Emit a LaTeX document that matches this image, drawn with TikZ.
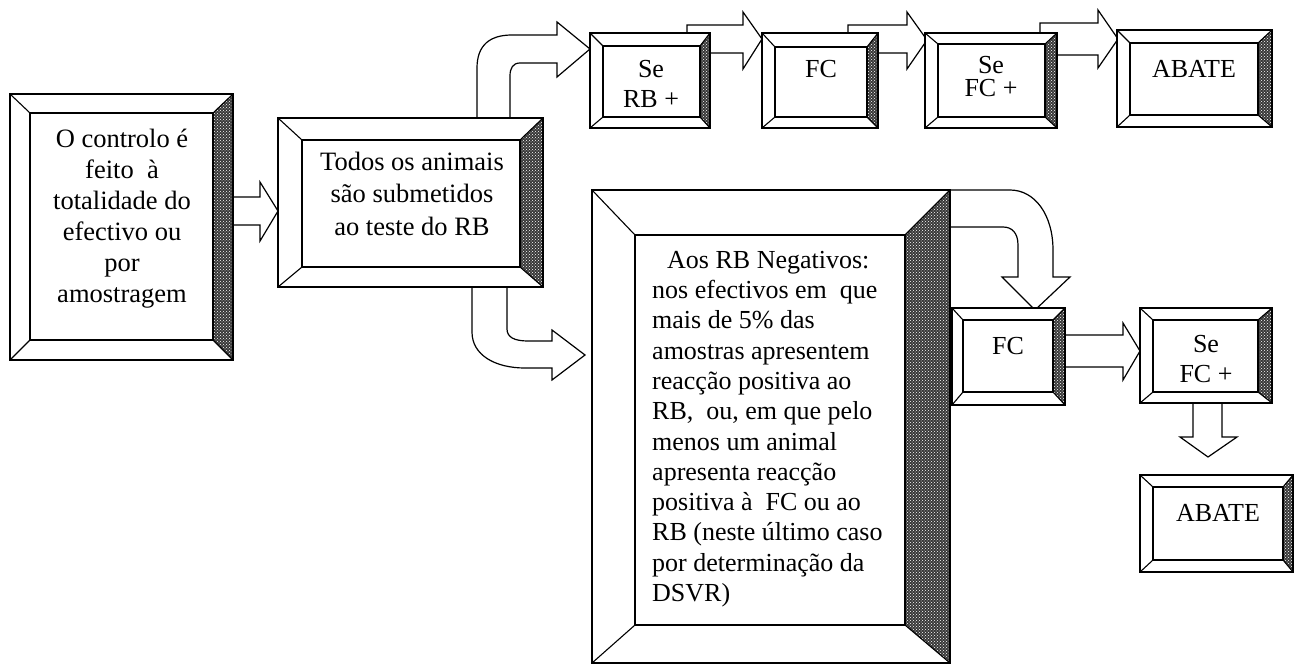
\documentclass[tikz,border=0pt]{standalone}
\usepackage{fontspec}
\setmainfont{Liberation Serif}
\usetikzlibrary{patterns}
\tikzset{
  bevouter/.style={line width=1.7pt, line join=miter},
  bevinner/.style={line width=1.1pt},
  bevfill/.style={fill=black!78, postaction={pattern=crosshatch dots, pattern color=white}},
  blockarrow/.style={draw, fill=white, line width=1.2pt, line join=miter},
  txt/.style={anchor=north, inner sep=0pt, align=center, font=\fontsize{26}{30}\selectfont},
}
\newcommand\bevbox[9]{%
  \fill[white] (#2,#3) rectangle (#4,#5);
  \path[bevfill] (#4,#3) -- (#4,#5) -- ({#4-#8},{#5-#9}) -- ({#4-#8},{#3+#7}) -- cycle;
  \draw[bevinner] ({#2+#6},{#3+#7}) rectangle ({#4-#8},{#5-#9});
  \draw[bevinner] (#2,#3) -- ({#2+#6},{#3+#7}) (#4,#3) -- ({#4-#8},{#3+#7})
     (#4,#5) -- ({#4-#8},{#5-#9}) (#2,#5) -- ({#2+#6},{#5-#9});
  \draw[bevouter] (#2,#3) rectangle (#4,#5);
  \coordinate (#1) at ({(#2+#4)/2},{(#3+#5)/2});
}
\newcommand\ts{\rule{0pt}{25pt}}
\begin{document}
\begin{tikzpicture}[x=1pt,y=-1pt]
\useasboundingbox (0,0) rectangle (1299,664);

% ---- block arrows (drawn first, boxes cover their tails)
% box1 -> box2
\draw[blockarrow] (228,197) -- (260,197) -- (260,182) -- (278,211) -- (260,241) -- (260,225) -- (228,225) -- cycle;
% box2 -> Se RB+ (curved up)
\draw[blockarrow] (477,125) -- (477,68) .. controls (477,45) and (490,35) .. (512,35) -- (557,35) -- (557,22)
   -- (590,49) -- (557,77) -- (557,63) -- (520,63) .. controls (513,63) and (510,68) .. (510,76) -- (510,125) -- cycle;
% Se RB+ -> FC
\draw[blockarrow] (687,25) -- (743,25) -- (743,12) -- (762,39) -- (743,69) -- (743,53) -- (700,53) -- (687,53) -- cycle;
% FC -> Se FC+
\draw[blockarrow] (848,25) -- (907,25) -- (907,12) -- (927,40) -- (907,69) -- (907,53) -- (860,53) -- (848,53) -- cycle;
% Se FC+ -> ABATE
\draw[blockarrow] (1040,23) -- (1098,23) -- (1098,10) -- (1118,39) -- (1098,68) -- (1098,55) -- (1040,55) -- cycle;
% box2 -> big box (curved down)
\draw[blockarrow] (472,280) -- (472,332) .. controls (472,355) and (495,368) .. (525,368) -- (552,368) -- (552,380)
   -- (585,355) -- (552,330) -- (552,341) -- (528,341) .. controls (514,341) and (507,337) .. (507,329) -- (507,280) -- cycle;
% big box -> FC (curved down)
\draw[blockarrow] (940,190) -- (1010,190) .. controls (1035,190) and (1053,215) .. (1053,250) -- (1053,277) -- (1070,277)
   -- (1035,310) -- (1002,277) -- (1018,277) -- (1018,245) .. controls (1018,233) and (1012,227) .. (1003,227) -- (940,227) -- cycle;
% FC -> Se FC+ (middle)
\draw[blockarrow] (1058,335) -- (1123,335) -- (1123,323) -- (1140,351) -- (1123,380) -- (1123,367) -- (1058,367) -- cycle;
% Se FC+ -> ABATE (down)
\draw[blockarrow] (1193,398) -- (1193,437) -- (1180,437) -- (1208,457) -- (1237,437) -- (1222,437) -- (1222,398) -- cycle;

% ---- bevelled boxes
\bevbox{b1}{10}{94}{233}{360}{20}{19}{20}{20}
\bevbox{b2}{278}{118}{543}{287}{24}{22}{23}{20}
\bevbox{b3}{590}{33}{710}{128}{13}{13}{10}{11}
\bevbox{b4}{762}{33}{878}{128}{13}{14}{11}{11}
\bevbox{b5}{925}{33}{1057}{128}{13}{11}{12}{11}
\bevbox{b6}{1117}{30}{1272}{127}{13}{13}{14}{12}
\bevbox{b7}{592}{190}{950}{663}{43}{45}{45}{38}
\bevbox{b8}{952}{308}{1065}{405}{11}{12}{12}{13}
\bevbox{b9}{1140}{308}{1272}{403}{13}{12}{14}{11}
\bevbox{b10}{1140}{475}{1293}{572}{13}{12}{10}{12}

% ---- texts
\node[txt, font=\fontsize{26.5}{31}\selectfont] (t1) at (122,122)
  {\ts O controlo é\\feito~ à\\totalidade do\\efectivo ou\\por\\amostragem};
\node[txt, font=\fontsize{26.5}{32.5}\selectfont] (t2) at (412,145)
  {\ts Todos os animais\\são submetidos\\ao teste do RB};
\node[txt] (t3) at (651,52) {\ts Se\\RB +};
\node[txt] (t4) at (821,52) {\ts FC};
\node[txt, font=\fontsize{26}{23.5}\selectfont] (t5) at (991,48) {\ts Se\\FC +};
\node[txt] (t6) at (1194,52) {\ts ABATE};
\node[txt, anchor=north west, align=left, font=\fontsize{26}{30.3}\selectfont] (t7) at (652,243)
  {\ts\hspace{15pt}Aos RB Negativos:\\nos efectivos em~ que\\mais de 5\% das\\amostras apresentem\\reacção positiva ao\\RB,~ ou, em que pelo\\menos um animal\\apresenta reacção\\positiva à~ FC ou ao\\RB (neste último caso\\por determinação da\\DSVR)};
\node[txt] (t8) at (1008,329) {\ts FC};
\node[txt] (t9) at (1206,327) {\ts Se\\FC +};
\node[txt] (t10) at (1218,496) {\ts ABATE};
\end{tikzpicture}
\end{document}
